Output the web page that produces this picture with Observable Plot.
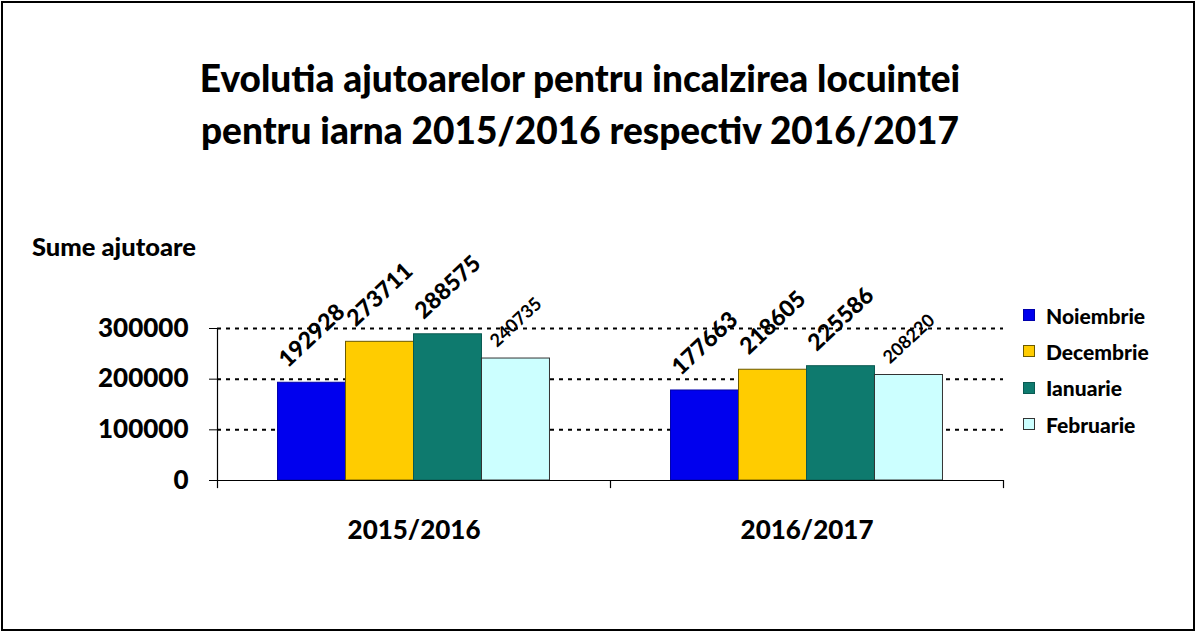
<!DOCTYPE html>
<html>
<head>
<meta charset="utf-8">
<script src="https://cdn.jsdelivr.net/npm/d3@7"></script>
<script src="https://cdn.jsdelivr.net/npm/@observablehq/plot@0.6"></script>
<style>
  html, body { margin: 0; padding: 0; background: #fff; }
  body { width: 1196px; height: 632px; position: relative; overflow: hidden; font-family: Lato, "Open Sans", sans-serif; }
  #frame { position: absolute; left: 1px; top: 1px; width: 1194px; height: 630px; box-sizing: border-box; border: 2px solid #000; }
  #title { position: absolute; left: 130px; width: 900px; top: 52px; text-align: center; font-weight: 900; font-size: 37px; line-height: 52px; color: #000; }
  #ylabel { position: absolute; left: 32px; top: 231px; font-weight: 900; font-size: 25.5px; color: #000; }
  #chart { position: absolute; left: 0; top: 0; }
  #legend { position: absolute; left: 1023px; top: 297px; }
  .item { display: flex; align-items: center; height: 36.3px; font-weight: 900; font-size: 21px; color: #000; }
  .sw { width: 12px; height: 12px; box-sizing: border-box; margin-right: 11px; }
</style>
</head>
<body>
<div id="frame"></div>
<div id="title">Evolutia ajutoarelor pentru incalzirea locuintei<br>pentru iarna 2015/2016 respectiv 2016/2017</div>
<div id="ylabel">Sume ajutoare</div>
<div id="chart"></div>
<div id="legend"></div>
<script>
// ---- data ----
const groups = ["2015/2016", "2016/2017"];
const months = ["Noiembrie", "Decembrie", "Ianuarie", "Februarie"];
const values2015 = [192928, 273711, 288575, 240735];
const values2016 = [177663, 218605, 225586, 208220];
const yTicks = [0, 100000, 200000, 300000];
const colors = ["#0000ee", "#ffcc00", "#0e7a6e", "#ccffff"];
const strokes = ["#0000aa", "#6b5a00", "#0a5a52", "#333333"];

// ---- build table ----
const seriesByGroup = [values2015, values2016];
const bw = 0.173;                       // bar width as a fraction of a group band
const pad = (1 - months.length * bw) / 2;
const data = [];
groups.forEach((g, gi) => {
  months.forEach((m, mi) => {
    const x1 = gi + pad + mi * bw;
    data.push({group: g, month: m, mi, value: seriesByGroup[gi][mi], x1, x2: x1 + bw, xc: x1 + bw / 2, stroke: strokes[mi]});
  });
});
const bigLabels = data.filter(d => d.mi < 3);
const smallLabels = data.filter(d => d.mi === 3);

const chart = Plot.plot({
  width: 1196,
  height: 550,
  marginLeft: 217,
  marginRight: 193,
  marginTop: 328,
  marginBottom: 70,
  style: {background: "transparent", overflow: "visible", fontFamily: "Lato, sans-serif", color: "#000"},
  x: {domain: [0, groups.length], ticks: groups.map((g, i) => i + 0.5), tickFormat: v => groups[Math.floor(v)], tickSize: 0, tickPadding: 40, label: null, line: false},
  y: {domain: [0, 300000], ticks: yTicks, tickFormat: d => String(d), tickSize: 8, tickPadding: 21, label: null},
  color: {domain: months, range: colors},
  marks: [
    Plot.ruleY(yTicks.filter(t => t > 0), {stroke: "#000", strokeWidth: 2, strokeDasharray: "4,5"}),
    Plot.rect(data, {x1: "x1", x2: "x2", y1: 0, y2: "value", fill: "month", stroke: "stroke", strokeWidth: 1}),
    Plot.ruleY([0], {stroke: "#000", strokeWidth: 1.2}),
    Plot.ruleX([0], {y1: -16000, y2: 300000, stroke: "#000", strokeWidth: 1.2}),
    Plot.ruleX([1, 2], {y1: 0, y2: -16000, stroke: "#000", strokeWidth: 1.2}),
    Plot.text(bigLabels, {x: "xc", y: "value", text: d => String(d.value), rotate: -43, dy: -47, fontSize: 23, fontWeight: 900, fill: "#000"}),
    Plot.text(smallLabels, {x: "xc", y: "value", text: d => String(d.value), rotate: -43, dy: -36, fontSize: 18, fontWeight: "bold", fill: "#000"})
  ]
});
chart.querySelectorAll("g[aria-label='y-axis tick label'], g[aria-label='x-axis tick label']").forEach(g => {
  g.setAttribute("font-size", 26); g.setAttribute("font-weight", 900);
});
document.getElementById("chart").appendChild(chart);

// ---- legend ----
const legend = document.getElementById("legend");
months.forEach((m, i) => {
  const item = document.createElement("div");
  item.className = "item";
  const sw = document.createElement("span");
  sw.className = "sw";
  sw.style.background = colors[i];
  sw.style.border = "1px solid " + (i === 3 ? "#333" : strokes[i]);
  item.appendChild(sw);
  item.appendChild(document.createTextNode(m));
  legend.appendChild(item);
});
</script>
</body>
</html>
